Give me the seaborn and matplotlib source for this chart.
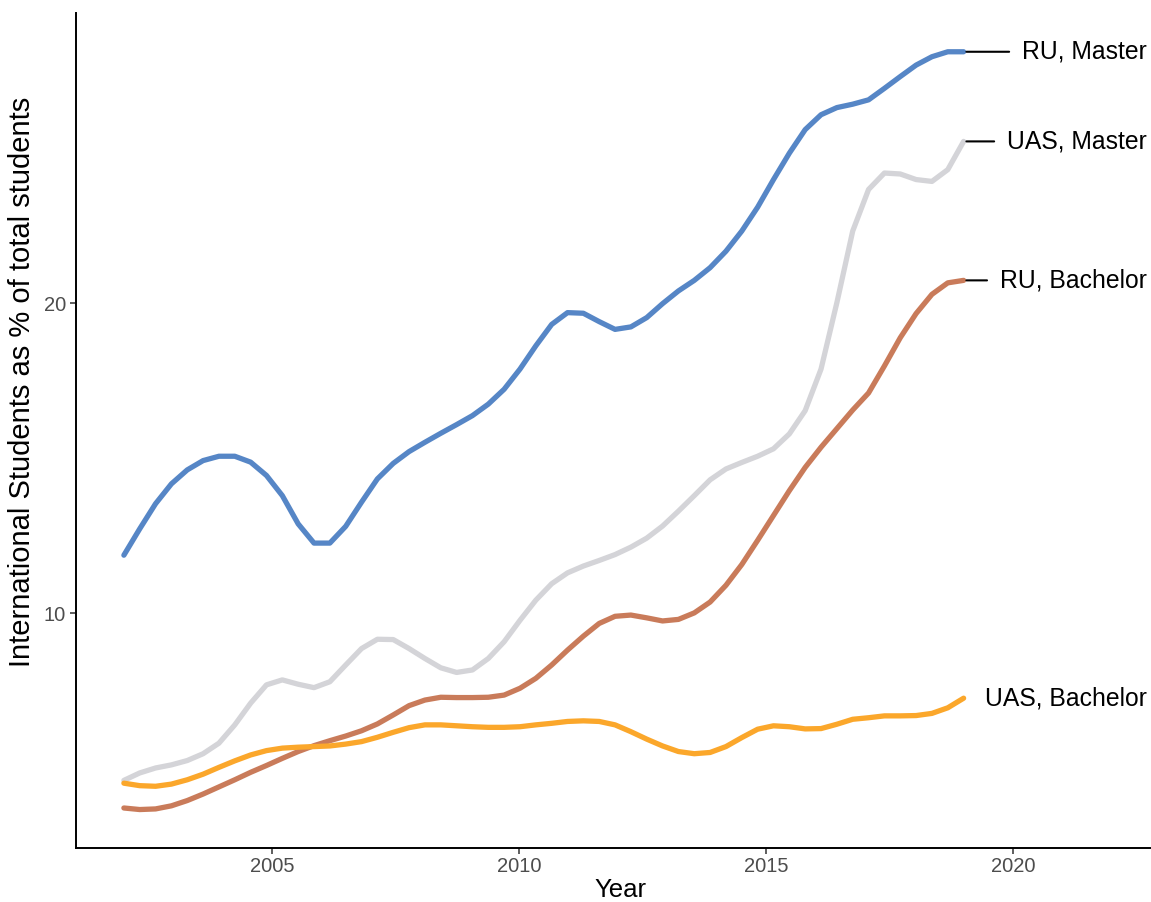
import numpy as np
import pandas as pd
import matplotlib
matplotlib.use("Agg")
import matplotlib.pyplot as plt
import seaborn as sb

# smoothed series, 54 points between 2002 and 2019
years = np.linspace(2002, 2019, 54)

ru_master = [11.87, 12.72, 13.53, 14.17, 14.62, 14.92, 15.06, 15.06, 14.87, 14.44,
             13.79, 12.88, 12.26, 12.26, 12.80, 13.58, 14.33, 14.83, 15.21, 15.51,
             15.80, 16.08, 16.37, 16.74, 17.22, 17.87, 18.62, 19.31, 19.69, 19.67,
             19.40, 19.15, 19.23, 19.53, 19.98, 20.39, 20.73, 21.14, 21.67, 22.32,
             23.09, 23.98, 24.83, 25.59, 26.07, 26.30, 26.41, 26.55, 26.92, 27.30,
             27.67, 27.94, 28.10, 28.10]

uas_master = [4.61, 4.85, 5.01, 5.11, 5.25, 5.47, 5.81, 6.40, 7.10, 7.69,
              7.85, 7.71, 7.60, 7.79, 8.33, 8.86, 9.16, 9.15, 8.86, 8.54,
              8.24, 8.09, 8.17, 8.54, 9.08, 9.77, 10.42, 10.95, 11.30, 11.52,
              11.70, 11.89, 12.13, 12.42, 12.81, 13.29, 13.79, 14.30, 14.65, 14.86,
              15.06, 15.30, 15.78, 16.53, 17.87, 20.01, 22.32, 23.66, 24.19, 24.16,
              23.98, 23.92, 24.30, 25.21]

ru_bachelor = [3.72, 3.67, 3.69, 3.79, 3.96, 4.17, 4.40, 4.63, 4.87, 5.09,
               5.32, 5.54, 5.73, 5.89, 6.04, 6.21, 6.43, 6.72, 7.02, 7.20,
               7.29, 7.28, 7.28, 7.29, 7.36, 7.58, 7.90, 8.33, 8.81, 9.26,
               9.67, 9.90, 9.94, 9.85, 9.75, 9.80, 10.01, 10.36, 10.90, 11.57,
               12.35, 13.15, 13.95, 14.70, 15.35, 15.95, 16.55, 17.10, 17.97, 18.88,
               19.66, 20.28, 20.65, 20.73]

uas_bachelor = [4.52, 4.44, 4.42, 4.49, 4.63, 4.81, 5.03, 5.24, 5.43, 5.57,
                5.65, 5.68, 5.70, 5.72, 5.78, 5.86, 6.00, 6.16, 6.31, 6.40,
                6.40, 6.37, 6.34, 6.32, 6.32, 6.34, 6.40, 6.45, 6.51, 6.53,
                6.51, 6.40, 6.18, 5.94, 5.72, 5.54, 5.47, 5.51, 5.70, 5.99,
                6.26, 6.37, 6.34, 6.27, 6.28, 6.42, 6.58, 6.63, 6.69, 6.69,
                6.70, 6.77, 6.95, 7.26]

groups = ["RU, Master", "UAS, Master", "RU, Bachelor", "UAS, Bachelor"]
colors = {"RU, Master": "#5686C6", "UAS, Master": "#D4D4D8",
          "RU, Bachelor": "#C97B5A", "UAS, Bachelor": "#FBA72B"}

df = pd.concat([
    pd.DataFrame({"year": years, "share": vals, "group": g})
    for g, vals in zip(groups, [ru_master, uas_master, ru_bachelor, uas_bachelor])
])

sb.set_style("ticks")
plt.rcParams["font.family"] = ["Liberation Sans", "DejaVu Sans"]

fig = plt.figure(figsize=(11.51, 9.02), dpi=100)
ax = fig.add_axes([0.066, 0.0602, 0.933, 0.9254])

# draw grey first so the coloured lines sit on top of it
order = ["UAS, Master", "RU, Bachelor", "UAS, Bachelor", "RU, Master"]
sb.lineplot(data=df, x="year", y="share", hue="group", hue_order=order,
            palette=colors, linewidth=3.8, legend=False, ax=ax)

ax.set_xlim(2001.03, 2022.77)
ax.set_ylim(2.44, 29.35)
ax.set_xticks([2005, 2010, 2015, 2020])
ax.set_yticks([10, 20])
ax.set_xlabel("Year", fontsize=18.5, color="black")
ax.set_ylabel("International Students as % of total students", fontsize=21,
              color="black")
ax.xaxis.set_label_coords(0.507, -0.036)
ax.yaxis.set_label_coords(-0.037, 0.558)
ax.tick_params(axis="both", labelsize=14.5, labelcolor="#4D4D4D", color="#333333",
               length=4, width=1.1, pad=3)
sb.despine(ax=ax)
for s in ["left", "bottom"]:
    ax.spines[s].set_linewidth(1.4)
    ax.spines[s].set_color("black")

# end labels with leader lines
label_x = 2022.71
series = dict(zip(groups, [ru_master, uas_master, ru_bachelor, uas_bachelor]))
for g in groups:
    y_end = series[g][-1]
    if g == "UAS, Bachelor":
        ax.text(label_x, y_end, g, ha="right", va="center", fontsize=17.8,
                color="black")
    else:
        ax.annotate(g, xy=(years[-1], y_end), xytext=(label_x, y_end),
                    ha="right", va="center", fontsize=17.8, color="black",
                    arrowprops=dict(arrowstyle="-", color="black", lw=1.5,
                                    shrinkA=7, shrinkB=2))

fig.savefig("out.png", dpi=100)
